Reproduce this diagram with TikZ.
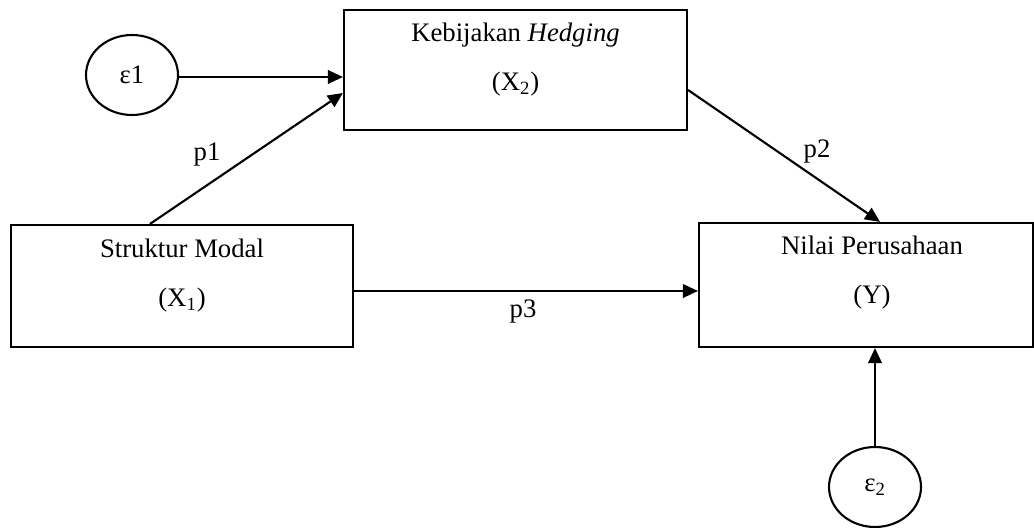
\documentclass[tikz,border=0pt]{standalone}
\usepackage{fontspec}
\setmainfont{Liberation Serif}
\usetikzlibrary{arrows.meta,positioning,shapes.geometric}

\begin{document}
\begin{tikzpicture}[
    varbox/.style={draw, line width=1.2pt, minimum width=#1, minimum height=2.44cm, inner sep=0pt},
    errnode/.style={draw, ellipse, line width=1.2pt, minimum width=1.84cm, minimum height=1.6cm, inner sep=0pt},
    boxtext/.style={align=center, inner sep=0pt},
    pathline/.style={line width=1.2pt, -{Triangle[length=0.3cm,width=0.27cm]}},
    every node/.append style={font=\fontsize{15.2}{18}\selectfont}
  ]
  \useasboundingbox (0,0) rectangle (20.68,10.54);
  \node[varbox=6.86cm, minimum height=2.4cm] (X2) at (10.31,9.14) {};
  \node[varbox=6.84cm] (X1) at (3.64,4.82) {};
  \node[varbox=6.68cm, minimum height=2.48cm] (Y) at (17.32,4.84) {};
  \node[errnode] (e1) at (2.64,9.04) {ε1};
  \node[errnode] (e2) at (17.5,0.8) {ε\textsubscript{2}};
  \node[boxtext] (X2t) at ([yshift=-1.02cm]X2.north) {Kebijakan \textit{Hedging}\\[10pt](X\textsubscript{2})};
  \node[boxtext] (X1t) at ([yshift=-1.04cm]X1.north) {Struktur Modal\\[10pt](X\textsubscript{1})};
  \node[boxtext] (Yt) at ([xshift=0.12cm,yshift=-1.02cm]Y.north) {Nilai Perusahaan\\[10pt](Y)};
  \draw[pathline] ([yshift=-0.04cm]e1.east) -- ([yshift=-0.04cm]e1.east -| X2.west);
  \draw[pathline] ([xshift=-0.64cm]X1.north) -- ([yshift=-0.46cm]X2.west);
  \draw[pathline] ([yshift=-0.4cm]X2.east) -- ([xshift=0.28cm]Y.north);
  \draw[pathline] ([yshift=-0.1cm]X1.east) -- ([yshift=-0.1cm]X1.east -| Y.west);
  \draw[pathline] (e2) -- (e2 |- Y.south);
  \node (p1) at (4.14,7.44) {p1};
  \node (p2) at (16.34,7.5) {p2};
  \node (p3) at (10.46,4.3) {p3};
\end{tikzpicture}
\end{document}
